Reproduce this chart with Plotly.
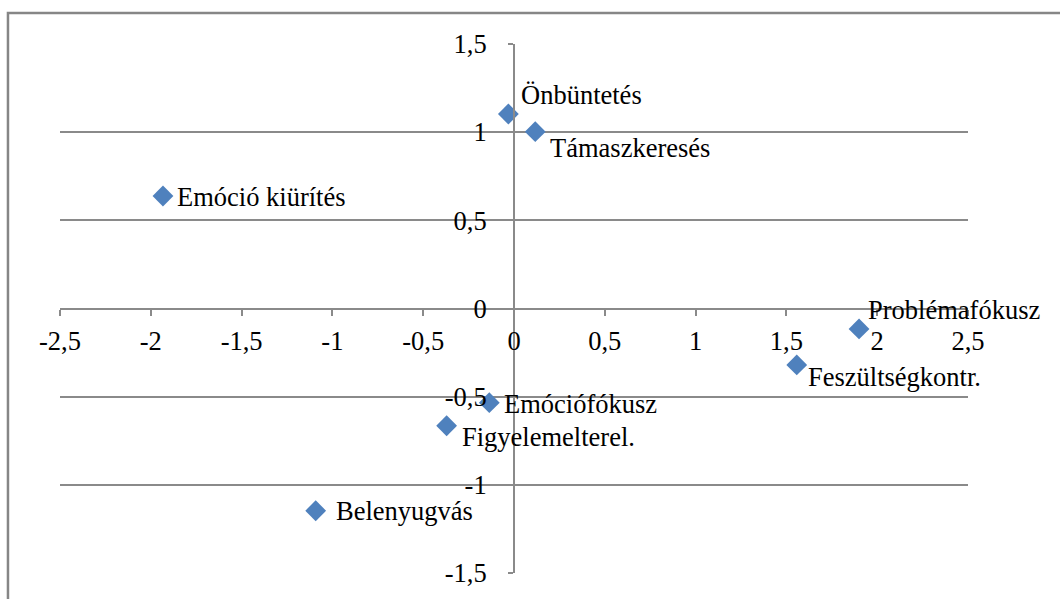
import plotly.graph_objects as go

labels = ["Önbüntetés", "Támaszkeresés", "Emóció kiürítés", "Problémafókusz",
          "Feszültségkontr.", "Emóciófókusz", "Figyelemelterel.", "Belenyugvás"]
x_vals = [-0.031, 0.117, -1.933, 1.900, 1.557, -0.136, -0.371, -1.092]
y_vals = [1.103, 1.003, 0.638, -0.116, -0.320, -0.534, -0.665, -1.147]

x_ticks = [-2.5, -2, -1.5, -1, -0.5, 0, 0.5, 1, 1.5, 2, 2.5]
x_ticktext = ["-2,5", "-2", "-1,5", "-1", "-0,5", "0", "0,5", "1", "1,5", "2", "2,5"]
y_ticks = [-1.5, -1, -0.5, 0, 0.5, 1, 1.5]
y_ticktext = ["-1,5", "-1", "-0,5", "0", "0,5", "1", "1,5"]

# label offsets in pixels (style only)
label_dx = [11, 13, 12, 7, 9, 13, 13, 18]
label_dy = [19, -16, -1, 19, -12, -1, -11, 0]

FONT = "Liberation Serif"
FS = 26.5
GRID = "#8a8a8a"

fig = go.Figure()
fig.add_trace(go.Scatter(
    x=x_vals, y=y_vals, mode="markers",
    marker=dict(symbol="diamond", size=16, color="#4F81BD"),
    hoverinfo="text", text=labels, showlegend=False,
))

for lab, xv, yv, dx, dy in zip(labels, x_vals, y_vals, label_dx, label_dy):
    fig.add_annotation(x=xv, y=yv, text=lab, showarrow=False,
                       xanchor="left", yanchor="middle", xshift=dx, yshift=dy,
                       font=dict(family=FONT, size=FS, color="black"))

fig.update_layout(
    width=1060, height=599,
    margin=dict(l=60, r=92, t=44, b=26),
    paper_bgcolor="white", plot_bgcolor="white",
    font=dict(family=FONT, size=FS, color="black"),
    xaxis=dict(range=[-2.5, 2.5], tickvals=x_ticks, ticktext=x_ticktext,
               showgrid=False, zeroline=False, showline=True, linecolor=GRID,
               linewidth=2, ticks="outside", ticklen=6, tickwidth=2, tickcolor=GRID,
               anchor="free", position=0.5, ticklabelstandoff=3,
               tickfont=dict(family=FONT, size=FS, color="black"), fixedrange=True),
    yaxis=dict(range=[-1.5, 1.5], tickvals=y_ticks, ticktext=y_ticktext,
               showgrid=True, gridcolor=GRID, gridwidth=2, zeroline=False,
               showline=True, linecolor=GRID, linewidth=2,
               ticks="outside", ticklen=5, tickwidth=2, tickcolor=GRID,
               anchor="free", position=0.5, ticklabelstandoff=16,
               tickfont=dict(family=FONT, size=FS, color="black"), fixedrange=True),
    shapes=[dict(type="rect", xref="paper", yref="paper",
                 x0=-0.0573, x1=1.3, y0=-0.3, y1=1.0586,
                 line=dict(color="#868686", width=2.5), layer="below")],
)

fig.write_html("out.html", config={"displayModeBar": False})
